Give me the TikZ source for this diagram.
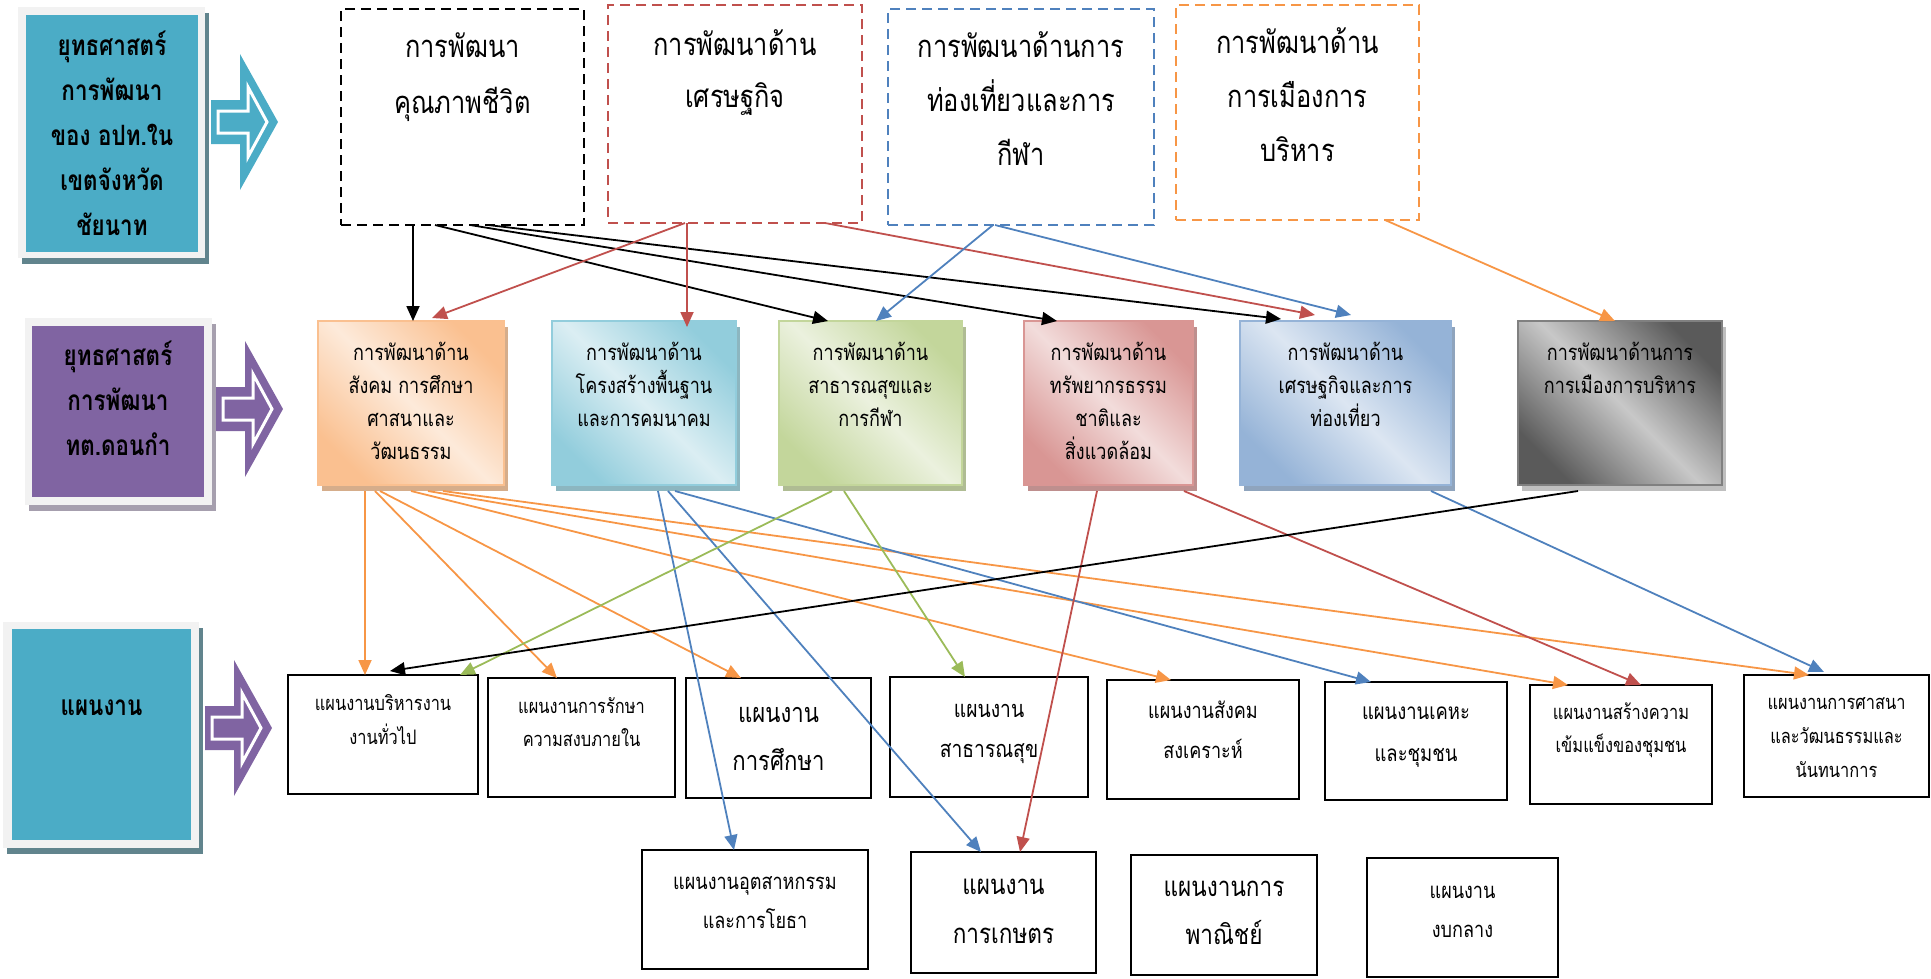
\documentclass[tikz,border=0pt]{standalone}
\usepackage{fontspec}
\usetikzlibrary{arrows.meta,shadows}
\newfontfamily\thai[Script=Thai,FakeStretch=0.82]{Loma}
\newfontfamily\thaiB[Script=Thai,FakeStretch=0.8]{Loma}
\definecolor{cTeal}{HTML}{4BACC6}
\definecolor{cPurple}{HTML}{8064A2}
\definecolor{cRed}{HTML}{C0504D}
\definecolor{cBlue}{HTML}{4F81BD}
\definecolor{cOrange}{HTML}{F79646}
\definecolor{cGreen}{HTML}{9BBB59}
\definecolor{cFrame}{HTML}{F2F2F2}
\definecolor{oD}{HTML}{FAC090}\definecolor{oL}{HTML}{FDEADA}
\definecolor{lbD}{HTML}{92CDDC}\definecolor{lbL}{HTML}{DBEEF3}
\definecolor{gD}{HTML}{C3D69B}\definecolor{gL}{HTML}{EBF1DE}
\definecolor{pD}{HTML}{D99694}\definecolor{pL}{HTML}{F2DCDB}
\definecolor{bD}{HTML}{95B3D7}\definecolor{bL}{HTML}{DCE6F2}
\definecolor{kD}{HTML}{5A5A5A}\definecolor{kL}{HTML}{C8C8C8}
\newcommand\myblockarrow[3]{%
  \fill[#3] (#1,#2-22) -- (#1+29,#2-22) -- (#1+29,#2-68) -- (#1+67,#2) -- (#1+29,#2+68) -- (#1+29,#2+22) -- (#1,#2+22) -- cycle;
  \draw[white,line width=3pt] (#1+7,#2-11) -- (#1+37,#2-11) -- (#1+37,#2-35) -- (#1+56,#2) -- (#1+37,#2+35) -- (#1+37,#2+11) -- (#1+7,#2+11) -- cycle;
}
\tikzset{
  box/.style 2 args={minimum width=#1pt,minimum height=#2pt,inner sep=0pt,outer sep=0pt},
  dbox/.style={draw=#1,line width=2.5pt,dash pattern=on 10pt off 6pt},
  mbox/.style 2 args={draw=#1,line width=1.5pt,left color=#1,right color=#1,middle color=#2,shading angle=-45,
    drop shadow={shadow xshift=4pt,shadow yshift=-6pt,fill=#1!70!gray,opacity=1}},
  wbox/.style={draw=black,line width=2.5pt,fill=white},
  frame/.style={fill=cFrame,drop shadow={shadow xshift=4pt,shadow yshift=-6pt,fill=#1,opacity=1}},
  tx/.style 2 args={font=\thai\fontsize{#1}{#2}\selectfont,align=center,anchor=base,inner sep=0pt},
  tb/.style 2 args={font=\thaiB\bfseries\fontsize{#1}{#2}\selectfont,align=center,anchor=base,inner sep=0pt},
  con/.style={line width=1.8pt,-{Triangle[length=15pt,width=13pt]}},
}
\begin{document}
\begin{tikzpicture}[x=1pt,y=-1pt]
\useasboundingbox (0,0) rectangle (1931,978);
% left column
\node[box={187}{251},frame=black!20!cTeal!45!gray] (L1f) at (111.5,132.5) {};
\node[box={172}{237},fill=cTeal] (L1) at (112,133.5) {};
\node[tb={28}{45}] (L1t) at (112,235) {ยุทธศาสตร์\\การพัฒนา\\ของ อปท.ใน\\เขตจังหวัด\\ชัยนาท};
\node[box={187}{187},frame=cPurple!35!gray!70] (L2f) at (118.5,411.5) {};
\node[box={172}{171},fill=cPurple] (L2) at (118,411.5) {};
\node[tb={28}{45}] (L2t) at (118,455) {ยุทธศาสตร์\\การพัฒนา\\ทต.ดอนกำ};
\node[box={196}{226},frame=black!20!cTeal!45!gray] (L3f) at (101,735) {};
\node[box={179}{211},fill=cTeal] (L3) at (101.5,734.5) {};
\node[tb={28}{45}] (L3t) at (101.5,715) {แผนงาน};
\myblockarrow{211}{122}{cTeal}
\myblockarrow{216}{409}{cPurple}
\myblockarrow{205}{728}{cPurple}
% top dashed boxes
\node[box={243}{216},dbox=black] (blk) at (462.5,117) {};
\node[box={254}{218},dbox=cRed] (red) at (735,114) {};
\node[box={266}{216},dbox=cBlue] (blu) at (1021,117) {};
\node[box={243}{215},dbox=cOrange] (org) at (1297.5,112.5) {};
\node[tx={31}{56}] (blkt) at (462.5,113) {การพัฒนา\\คุณภาพชีวิต};
\node[tx={31}{52}] (redt) at (735,107) {การพัฒนาด้าน\\เศรษฐกิจ};
\node[tx={31}{54}] (blut) at (1021,165) {การพัฒนาด้านการ\\ท่องเที่ยวและการ\\กีฬา};
\node[tx={31}{54}] (orgt) at (1297.5,161) {การพัฒนาด้าน\\การเมืองการ\\บริหาร};
% middle boxes
\node[box={186}{164},mbox={oD}{oL}] (m1) at (411,403) {};
\node[box={184}{164},mbox={lbD}{lbL}] (m2) at (644,403) {};
\node[box={183}{164},mbox={gD}{gL}] (m3) at (870.5,403) {};
\node[box={169}{164},mbox={pD}{pL}] (m4) at (1108.5,403) {};
\node[box={211}{164},mbox={bD}{bL}] (m5) at (1345.5,403) {};
\node[box={204}{164},draw=gray,line width=1.5pt,left color=kD,right color=kD,middle color=kL,shading angle=-45,
  drop shadow={shadow xshift=4pt,shadow yshift=-6pt,fill=black!25,opacity=1}] (m6) at (1620,403) {};
\node[tx={22}{33}] (m1t) at (411,459) {การพัฒนาด้าน\\สังคม การศึกษา\\ศาสนาและ\\วัฒนธรรม};
\node[tx={22}{33}] (m2t) at (644,426) {การพัฒนาด้าน\\โครงสร้างพื้นฐาน\\และการคมนาคม};
\node[tx={22}{33}] (m3t) at (870.5,426) {การพัฒนาด้าน\\สาธารณสุขและ\\การกีฬา};
\node[tx={22}{33}] (m4t) at (1108.5,459) {การพัฒนาด้าน\\ทรัพยากรธรรม\\ชาติและ\\สิ่งแวดล้อม};
\node[tx={22}{33}] (m5t) at (1345.5,426) {การพัฒนาด้าน\\เศรษฐกิจและการ\\ท่องเที่ยว};
\node[tx={22}{33}] (m6t) at (1620,393) {การพัฒนาด้านการ\\การเมืองการบริหาร};
% bottom boxes
\node[box={190}{119},wbox] (b1) at (383,734.5) {};
\node[box={187}{119},wbox] (b2) at (581.5,737.5) {};
\node[box={185}{120},wbox] (b3) at (778.5,738) {};
\node[box={198}{120},wbox] (b4) at (989,737) {};
\node[box={192}{119},wbox] (b5) at (1203,739.5) {};
\node[box={182}{118},wbox] (b6) at (1416,741) {};
\node[box={182}{119},wbox] (b7) at (1621,744.5) {};
\node[box={185}{122},wbox] (b8) at (1836.5,736) {};
\node[box={226}{119},wbox] (b9) at (755,909.5) {};
\node[box={185}{121},wbox] (b10) at (1003.5,912.5) {};
\node[box={186}{120},wbox] (b11) at (1224,915) {};
\node[box={191}{119},wbox] (b12) at (1462.5,917.5) {};
\node[tx={20}{34}] (b1t) at (383,744) {แผนงานบริหารงาน\\งานทั่วไป};
\node[tx={20}{33}] (b2t) at (581.5,746) {แผนงานการรักษา\\ความสงบภายใน};
\node[tx={27}{48}] (b3t) at (778.5,770) {แผนงาน\\การศึกษา};
\node[tx={23.5}{40}] (b4t) at (989,757) {แผนงาน\\สาธารณสุข};
\node[tx={22}{40}] (b5t) at (1203,758) {แผนงานสังคม\\สงเคราะห์};
\node[tx={22.5}{42}] (b6t) at (1416,761) {แผนงานเคหะ\\และชุมชน};
\node[tx={20}{33}] (b7t) at (1621,752) {แผนงานสร้างความ\\เข้มแข็งของชุมชน};
\node[tx={20}{34}] (b8t) at (1836.5,777) {แผนงานการศาสนา\\และวัฒนธรรมและ\\นันทนาการ};
\node[tx={22}{39}] (b9t) at (755,928) {แผนงานอุตสาหกรรม\\และการโยธา};
\node[tx={27.5}{49}] (b10t) at (1003.5,943) {แผนงาน\\การเกษตร};
\node[tx={27.5}{48}] (b11t) at (1224,944) {แผนงานการ\\พาณิชย์};
\node[tx={22}{39}] (b12t) at (1462.5,937) {แผนงาน\\งบกลาง};
% connectors top -> middle
\draw[con,black] ([xshift=72pt]blk.south west) -- ([xshift=95pt]m1.north west);
\draw[con,black] ([xshift=94pt]blk.south west) -- ([xshift=49pt]m3.north west);
\draw[con,black] ([xshift=129pt]blk.south west) -- ([xshift=33pt]m4.north west);
\draw[con,black] ([xshift=147pt]blk.south west) -- ([xshift=41pt,yshift=2pt]m5.north west);
\draw[con,cRed] ([xshift=77pt]red.south west) -- ([xshift=114pt,yshift=3pt]m1.north west);
\draw[con,cRed] ([xshift=79pt]red.south west) -- ([xshift=135pt,yshift=-6pt]m2.north west);
\draw[con,cRed] ([xshift=217pt]red.south west) -- ([xshift=75pt,yshift=6pt]m5.north west);
\draw[con,cBlue] ([xshift=105pt]blu.south west) -- ([xshift=97pt]m3.north west);
\draw[con,cBlue] ([xshift=107pt]blu.south west) -- ([xshift=111pt,yshift=6pt]m5.north west);
\draw[con,cOrange] ([xshift=209pt]org.south west) -- ([xshift=97pt]m6.north west);
% connectors middle -> bottom
\draw[con,cOrange] ([xshift=47pt,yshift=-6pt]m1.south west) -- ([xshift=77pt]b1.north west);
\draw[con,cOrange] ([xshift=57pt,yshift=-6pt]m1.south west) -- ([xshift=69pt]b2.north west);
\draw[con,cOrange] ([xshift=62pt,yshift=-6pt]m1.south west) -- ([xshift=55pt]b3.north west);
\draw[con,cOrange] ([xshift=93pt,yshift=-6pt]m1.south west) -- ([xshift=64pt]b5.north west);
\draw[con,cOrange] ([xshift=110pt,yshift=-6pt]m1.south west) -- ([xshift=38pt]b7.north west);
\draw[con,cOrange] ([xshift=125pt,yshift=-6pt]m1.south west) -- ([xshift=65pt]b8.north west);
\draw[con,cBlue] ([xshift=106pt,yshift=-6pt]m2.south west) -- ([xshift=92pt]b9.north west);
\draw[con,cBlue] ([xshift=116pt,yshift=-6pt]m2.south west) -- ([xshift=70pt]b10.north west);
\draw[con,cBlue] ([xshift=123pt,yshift=-6pt]m2.south west) -- ([xshift=46pt]b6.north west);
\draw[con,cGreen] ([xshift=53pt,yshift=-6pt]m3.south west) -- ([xshift=172pt]b1.north west);
\draw[con,cGreen] ([xshift=65pt,yshift=-6pt]m3.south west) -- ([xshift=75pt]b4.north west);
\draw[con,cRed] ([xshift=73pt,yshift=-6pt]m4.south west) -- ([xshift=109pt]b10.north west);
\draw[con,cRed] ([xshift=160pt,yshift=-6pt]m4.south west) -- ([xshift=111pt]b7.north west);
\draw[con,cBlue] ([xshift=191pt,yshift=-6pt]m5.south west) -- ([xshift=80pt,yshift=3pt]b8.north west);
\draw[con,black] ([xshift=60pt,yshift=-6pt]m6.south west) -- ([xshift=102pt,yshift=4pt]b1.north west);
\end{tikzpicture}
\end{document}
